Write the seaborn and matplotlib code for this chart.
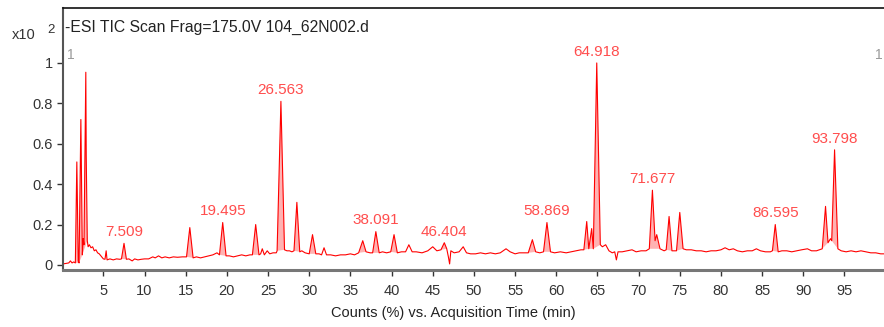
import matplotlib
matplotlib.use("Agg")
import matplotlib.pyplot as plt
import seaborn as sns
import numpy as np
import pandas as pd

# TIC trace (time in min, counts in units of x10^2 %)
acq_time = [0.1, 0.5, 0.8, 1.0, 1.2, 1.4, 1.6, 1.78, 1.95, 2.05, 2.27, 2.45, 2.55, 2.65, 2.87, 2.92,
            3.05, 3.15, 3.3, 3.5, 3.7, 3.9, 4.1, 4.3, 4.5, 4.8, 5.0, 5.2, 5.34, 5.45, 5.8, 6.2, 6.6,
            7.0, 7.2, 7.509, 7.8, 8.1, 8.5, 8.8, 9.2, 9.6, 10.0, 10.5, 11.0, 11.3, 11.7, 12.1,
            12.5, 13.0, 13.5, 14.0, 14.6, 15.1, 15.5, 15.9, 16.3, 16.8, 17.3, 17.8, 18.3, 18.8,
            19.1, 19.495, 19.9, 20.3, 20.8, 21.3, 21.8, 22.3, 22.8, 23.1, 23.5, 23.9, 24.1, 24.3,
            24.55, 24.9, 25.2, 25.6, 26.0, 26.1, 26.563, 27.0, 27.3, 27.6, 27.9, 28.15, 28.5,
            28.85, 29.1, 29.5, 30.0, 30.4, 30.8, 31.2, 31.5, 31.8, 32.1, 32.6, 33.2, 33.8, 34.4,
            35.0, 35.5, 36.0, 36.5, 36.9, 37.4, 37.7, 38.091, 38.5, 38.9, 39.4, 39.9, 40.3, 40.7,
            41.2, 41.7, 42.1, 42.5, 43.0, 43.7, 44.4, 45.0, 45.5, 46.0, 46.404, 46.7, 46.9, 47.05,
            47.2, 47.6, 48.2, 48.7, 49.1, 49.6, 50.2, 50.8, 51.4, 52.0, 52.6, 53.2, 53.9, 54.4,
            55.0, 55.5, 56.0, 56.6, 57.1, 57.5, 58.0, 58.45, 58.869, 59.3, 59.8, 60.5, 61.2, 61.8,
            62.4, 63.0, 63.35, 63.7, 63.95, 64.3, 64.5, 64.918, 65.35, 65.6, 66.0, 66.4, 66.8, 67.1,
            67.3, 67.5, 68.0, 68.6, 69.2, 69.7, 70.3, 70.9, 71.3, 71.677, 72.0, 72.2, 72.6, 73.1,
            73.35, 73.7, 74.05, 74.6, 75.0, 75.4, 75.8, 76.4, 77.0, 77.6, 78.2, 78.8, 79.4, 80.0,
            80.5, 81.0, 81.5, 82.0, 82.6, 83.2, 83.8, 84.3, 84.8, 85.4, 86.0, 86.25, 86.595, 86.95,
            87.4, 88.0, 88.6, 89.2, 89.8, 90.5, 91.0, 91.6, 92.3, 92.7, 93.0, 93.3, 93.45, 93.798,
            94.2, 94.6, 95.2, 95.8, 96.4, 97.0, 97.6, 98.2, 98.8, 99.4, 99.8]
counts = [0.005, 0.008, 0.01, 0.02, 0.01, 0.015, 0.01, 0.51, 0.02, 0.01, 0.72, 0.05, 0.13, 0.1, 0.954, 0.54,
          0.12, 0.09, 0.1, 0.085, 0.09, 0.07, 0.075, 0.06, 0.055, 0.04, 0.03, 0.028, 0.07, 0.025, 0.03, 0.025, 0.03,
          0.028, 0.03, 0.107, 0.028, 0.03, 0.02, 0.03, 0.025, 0.028, 0.03, 0.03, 0.04, 0.035, 0.045, 0.035,
          0.04, 0.035, 0.04, 0.038, 0.04, 0.04, 0.185, 0.035, 0.04, 0.035, 0.04, 0.045, 0.05, 0.06,
          0.05, 0.21, 0.045, 0.045, 0.04, 0.045, 0.05, 0.045, 0.05, 0.05, 0.2, 0.05, 0.055, 0.08,
          0.05, 0.07, 0.055, 0.06, 0.06, 0.07, 0.81, 0.075, 0.07, 0.07, 0.065, 0.07, 0.31,
          0.065, 0.07, 0.06, 0.055, 0.15, 0.055, 0.055, 0.05, 0.085, 0.05, 0.05, 0.045, 0.05, 0.05,
          0.055, 0.05, 0.06, 0.12, 0.065, 0.06, 0.06, 0.165, 0.06, 0.065, 0.06, 0.065, 0.15, 0.06,
          0.065, 0.065, 0.1, 0.065, 0.065, 0.06, 0.07, 0.09, 0.07, 0.075, 0.11, 0.08, 0.04, 0.005,
          0.07, 0.06, 0.065, 0.09, 0.06, 0.055, 0.055, 0.06, 0.055, 0.06, 0.055, 0.06, 0.08, 0.065,
          0.055, 0.06, 0.06, 0.06, 0.125, 0.065, 0.06, 0.065, 0.21, 0.065, 0.06, 0.065, 0.06, 0.065,
          0.07, 0.075, 0.075, 0.215, 0.08, 0.18, 0.08, 1.0, 0.1, 0.09, 0.1, 0.07, 0.06, 0.065,
          0.025, 0.065, 0.065, 0.07, 0.075, 0.065, 0.07, 0.07, 0.08, 0.37, 0.12, 0.15, 0.08, 0.07,
          0.075, 0.24, 0.07, 0.07, 0.26, 0.08, 0.075, 0.075, 0.07, 0.07, 0.065, 0.07, 0.07, 0.075,
          0.085, 0.075, 0.08, 0.07, 0.065, 0.07, 0.07, 0.08, 0.07, 0.065, 0.065, 0.07, 0.2, 0.065,
          0.07, 0.07, 0.065, 0.07, 0.075, 0.08, 0.07, 0.07, 0.08, 0.29, 0.11, 0.13, 0.12, 0.57,
          0.08, 0.07, 0.065, 0.07, 0.065, 0.07, 0.065, 0.06, 0.06, 0.055, 0.055]

# integrated (shaded) peak windows, start/end in min
peak_start = [1.6, 2.05, 2.45, 7.2, 15.1, 19.1, 23.1, 26.1, 28.15, 30.0, 36.0, 37.7, 39.9,
              46.0, 56.6, 58.45, 63.35, 63.95, 64.5, 71.3, 73.35, 74.6, 86.25, 92.3, 93.45]
peak_end = [2.05, 2.45, 3.05, 7.8, 15.9, 19.9, 23.9, 27.0, 28.85, 30.8, 36.9, 38.5, 40.7,
            46.7, 57.5, 59.3, 63.95, 64.5, 65.35, 72.6, 74.05, 75.4, 86.95, 93.0, 94.2]

# labelled retention times
label_rt = [7.509, 19.495, 26.563, 38.091, 46.404, 58.869, 64.918, 71.677, 86.595, 93.798]

df = pd.DataFrame({"time": acq_time, "counts": counts})

sns.set_style("white")
plt.rcParams['font.family'] = ['Liberation Sans', 'DejaVu Sans']

W, H = 884, 327
fig = plt.figure(figsize=(W / 100, H / 100), dpi=100)
ax = fig.add_axes([63 / W, 1 - 270 / H, 1 - 63 / W, (270 - 8) / H])

red = "#ff0000"
sns.lineplot(data=df, x="time", y="counts", ax=ax, color=red, lw=0.8)

t = np.array(acq_time)
c = np.array(counts)
for s, e in zip(peak_start, peak_end):
    m = (t >= s - 1e-9) & (t <= e + 1e-9)
    ax.fill(t[m], c[m], color=red, alpha=0.3, lw=0)

for rt in label_rt:
    h = c[np.argmin(np.abs(t - rt))]
    ax.annotate(f"{rt:.3f}", (rt, h), xytext=(0, 3), textcoords="offset points",
                ha="center", va="bottom", color="#ff4d4d", fontsize=11)

ax.set_xlim(0.1, 99.8)
ax.set_ylim(-0.025, 1.272)
ax.set_xticks(range(5, 100, 5))
ax.set_yticks([0, 0.2, 0.4, 0.6, 0.8, 1.0])
ax.set_yticklabels(["0", "0.2", "0.4", "0.6", "0.8", "1"])
ax.set_xlabel("")
ax.set_ylabel("")
ax.tick_params(axis="both", labelsize=10.5, colors="#333333", length=4, width=1, direction="out")
ax.tick_params(axis="x", pad=6)
ax.tick_params(left=True, bottom=True)

ax.spines["right"].set_visible(False)
ax.spines["top"].set_color("#111111")
ax.spines["top"].set_linewidth(1.2)
ax.spines["left"].set_color("#555555")
ax.spines["left"].set_linewidth(1.5)
ax.spines["bottom"].set_color("#777777")
ax.spines["bottom"].set_linewidth(2.2)

fig.text(65 / W, 1 - 27 / H, "-ESI TIC Scan Frag=175.0V 104_62N002.d", fontsize=11.3,
         color="#222222", ha="left", va="center")
fig.text(12 / W, 1 - 35 / H, "x10", fontsize=10.5, color="#333333", ha="left", va="center")
fig.text(47 / W, 1 - 30 / H, "2", fontsize=9.5, color="#333333", ha="left", va="center")
fig.text(67 / W, 1 - 55 / H, "1", fontsize=10, color="#999999", ha="left", va="center")
fig.text(875 / W, 1 - 55 / H, "1", fontsize=10, color="#999999", ha="left", va="center")
fig.text(453 / W, 1 - 313 / H, "Counts (%) vs. Acquisition Time (min)", fontsize=10.5,
         color="#222222", ha="center", va="center")

fig.savefig("out.png", dpi=100)
